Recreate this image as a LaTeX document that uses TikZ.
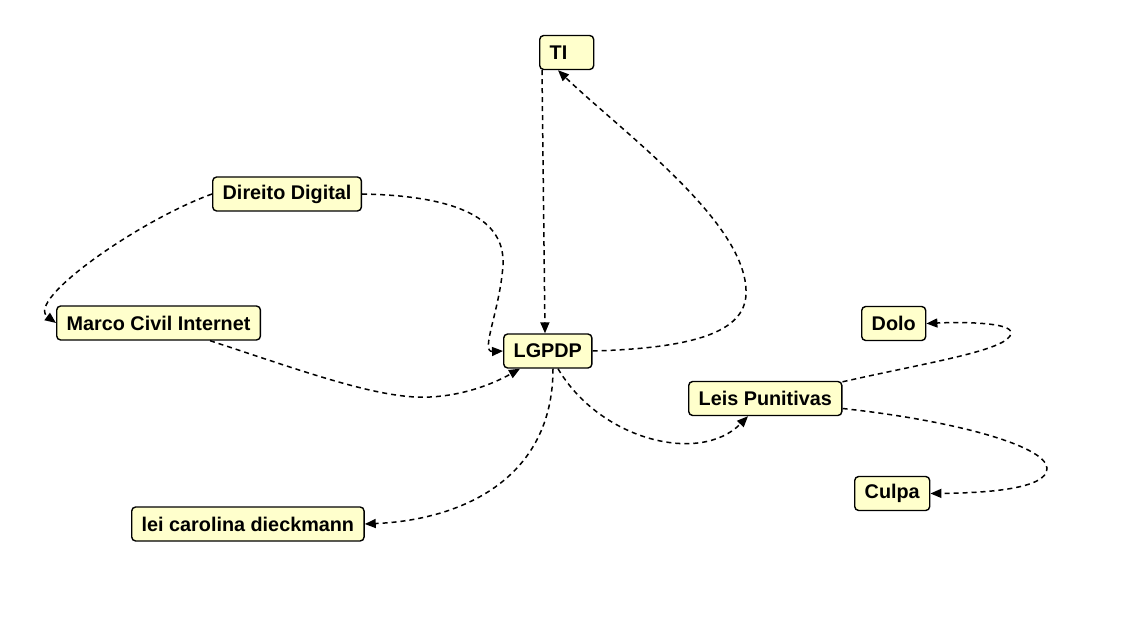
\documentclass[tikz,border=0pt]{standalone}
\usepackage{fontspec}
\setmainfont{Liberation Sans}
\usetikzlibrary{arrows.meta}
\definecolor{boxfill}{HTML}{FFFFCC}
\tikzset{
  box/.style={draw=black, line width=1.4pt, fill=boxfill, rounded corners=4pt,
    minimum height=34pt, inner xsep=10pt, inner ysep=0pt, anchor=west,
    font=\fontsize{19.8}{21}\selectfont\bfseries},
  link/.style={draw=black, line width=1.5pt, dash pattern=on 5pt off 4pt,
    -{Triangle[length=11pt,width=9pt]}},
}
\begin{document}
\begin{tikzpicture}[x=1pt,y=-1pt]
\useasboundingbox (0,0) rectangle (1148,631);
\fill[white] (0,0) rectangle (1148,631);
\node[box, text width=34pt, align=left] (ti) at (539,52.5) {TI};
\node[box] (dd) at (212,194) {Direito Digital};
\node[box] (mci) at (56,323) {Marco Civil Internet};
\node[box] (lgpdp) at (503,351) {LGPDP};
\node[box] (dolo) at (861,323.5) {Dolo};
\node[box] (leis) at (688,398.5) {Leis Punitivas};
\node[box] (culpa) at (854,493.5) {Culpa};
\node[box] (lcd) at (131,524) {lei carolina dieckmann};

\draw[link] ([xshift=3pt]ti.south west) -- ([xshift=42pt]lgpdp.north west);
\draw[link] (lgpdp.east) .. controls (700,348) and (748,330) .. (746,290)
   .. controls (744,220) and (620,130) .. ([xshift=19pt]ti.south west);
\draw[link] (dd.west) .. controls (140,220) and (25,300) .. (mci.west);
\draw[link] (dd.east) .. controls (470,196) and (505,225) .. (503,265)
   .. controls (500,310) and (480,352) .. (lgpdp.west);
\draw[link] ([xshift=154pt]mci.south west) .. controls (300,370) and (380,400) .. (430,397)
   .. controls (470,395) and (500,380) .. ([xshift=17pt]lgpdp.south west);
\draw[link] ([xshift=50pt]lgpdp.south west) .. controls (553,480) and (460,520) .. (lcd.east);
\draw[link] ([xshift=55pt]lgpdp.south west) .. controls (600,440) and (700,465) .. ([xshift=60pt]leis.south west);
\draw[link] ([yshift=-1pt]leis.north east) .. controls (930,362) and (1010,350) .. (1011,333)
   .. controls (1012,322) and (960,322) .. (dolo.east);
\draw[link] ([yshift=-10pt]leis.east) .. controls (950,420) and (1045,445) .. (1047,468)
   .. controls (1048,490) and (980,493) .. (culpa.east);
\end{tikzpicture}
\end{document}
